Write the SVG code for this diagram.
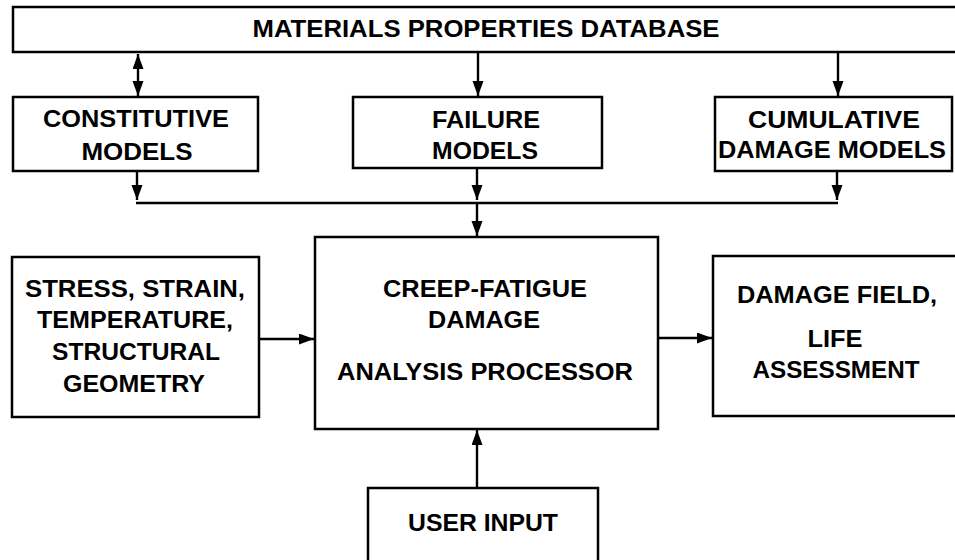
<svg xmlns="http://www.w3.org/2000/svg" width="955" height="560" viewBox="0 0 955 560">
<style>
.box{fill:#fff;stroke:#000;stroke-width:2.5}
.t{font-family:"Liberation Sans",Arial,Helvetica,sans-serif;font-weight:bold;font-size:24px;fill:#000;text-anchor:middle}
.c{fill:none;stroke:#000;stroke-width:2.4}
</style>
<defs>
<marker id="ah" markerUnits="userSpaceOnUse" markerWidth="16" markerHeight="12" refX="15" refY="5.5" orient="auto-start-reverse">
<path d="M0,0 L15,5.5 L0,11 Z" fill="#000"/>
</marker>
</defs>
<rect width="955" height="560" fill="#fff"/>
<g id="connectors">
<line class="c" x1="138" y1="54" x2="138" y2="96" marker-start="url(#ah)" marker-end="url(#ah)"/>
<line class="c" x1="478" y1="52" x2="478" y2="96" marker-end="url(#ah)"/>
<line class="c" x1="838" y1="52" x2="838" y2="96" marker-end="url(#ah)"/>
<line class="c" x1="137" y1="171" x2="137" y2="200" marker-end="url(#ah)"/>
<line class="c" x1="837" y1="171" x2="837" y2="200" marker-end="url(#ah)"/>
<line class="c" x1="477" y1="168" x2="477" y2="200" marker-end="url(#ah)"/>
<line class="c" x1="136" y1="203" x2="838" y2="203"/>
<line class="c" x1="477" y1="203" x2="477" y2="236" marker-end="url(#ah)"/>
<line class="c" x1="259" y1="339" x2="314" y2="339" marker-end="url(#ah)"/>
<line class="c" x1="658" y1="338" x2="712" y2="338" marker-end="url(#ah)"/>
<line class="c" x1="477" y1="488" x2="477" y2="430" marker-end="url(#ah)"/>
</g>
<g id="database">
<rect class="box" x="13" y="7" width="960" height="45"/>
<text class="t" x="486" y="37" textLength="467" lengthAdjust="spacingAndGlyphs">MATERIALS PROPERTIES DATABASE</text>
</g>
<g id="constitutive">
<rect class="box" x="13" y="97" width="245" height="74"/>
<text class="t" x="136" y="127" textLength="186" lengthAdjust="spacingAndGlyphs">CONSTITUTIVE</text>
<text class="t" x="137" y="160" textLength="111" lengthAdjust="spacingAndGlyphs">MODELS</text>
</g>
<g id="failure">
<rect class="box" x="353" y="97" width="249" height="71"/>
<text class="t" x="486" y="128" textLength="108" lengthAdjust="spacingAndGlyphs">FAILURE</text>
<text class="t" x="485" y="159" textLength="106" lengthAdjust="spacingAndGlyphs">MODELS</text>
</g>
<g id="cumulative">
<rect class="box" x="715" y="97" width="237" height="74"/>
<text class="t" x="834" y="128" textLength="172" lengthAdjust="spacingAndGlyphs">CUMULATIVE</text>
<text class="t" x="832" y="158" textLength="228" lengthAdjust="spacingAndGlyphs">DAMAGE MODELS</text>
</g>
<g id="inputs">
<rect class="box" x="12" y="257" width="247" height="160"/>
<text class="t" x="135" y="297" textLength="220" lengthAdjust="spacingAndGlyphs">STRESS, STRAIN,</text>
<text class="t" x="135" y="328" textLength="196" lengthAdjust="spacingAndGlyphs">TEMPERATURE,</text>
<text class="t" x="136" y="360" textLength="168" lengthAdjust="spacingAndGlyphs">STRUCTURAL</text>
<text class="t" x="134" y="392" textLength="142" lengthAdjust="spacingAndGlyphs">GEOMETRY</text>
</g>
<g id="processor">
<rect class="box" x="315" y="237" width="343" height="192"/>
<text class="t" x="485" y="297" textLength="204" lengthAdjust="spacingAndGlyphs">CREEP-FATIGUE</text>
<text class="t" x="484" y="328" textLength="112" lengthAdjust="spacingAndGlyphs">DAMAGE</text>
<text class="t" x="485" y="380" textLength="296" lengthAdjust="spacingAndGlyphs">ANALYSIS PROCESSOR</text>
</g>
<g id="output">
<rect class="box" x="713" y="256" width="260" height="160"/>
<text class="t" x="837" y="303" textLength="200" lengthAdjust="spacingAndGlyphs">DAMAGE FIELD,</text>
<text class="t" x="835" y="347" textLength="55" lengthAdjust="spacingAndGlyphs">LIFE</text>
<text class="t" x="836" y="378" textLength="167" lengthAdjust="spacingAndGlyphs">ASSESSMENT</text>
</g>
<g id="user">
<rect class="box" x="368" y="488" width="230" height="90"/>
<text class="t" x="483" y="531" textLength="150" lengthAdjust="spacingAndGlyphs">USER INPUT</text>
</g>
</svg>
